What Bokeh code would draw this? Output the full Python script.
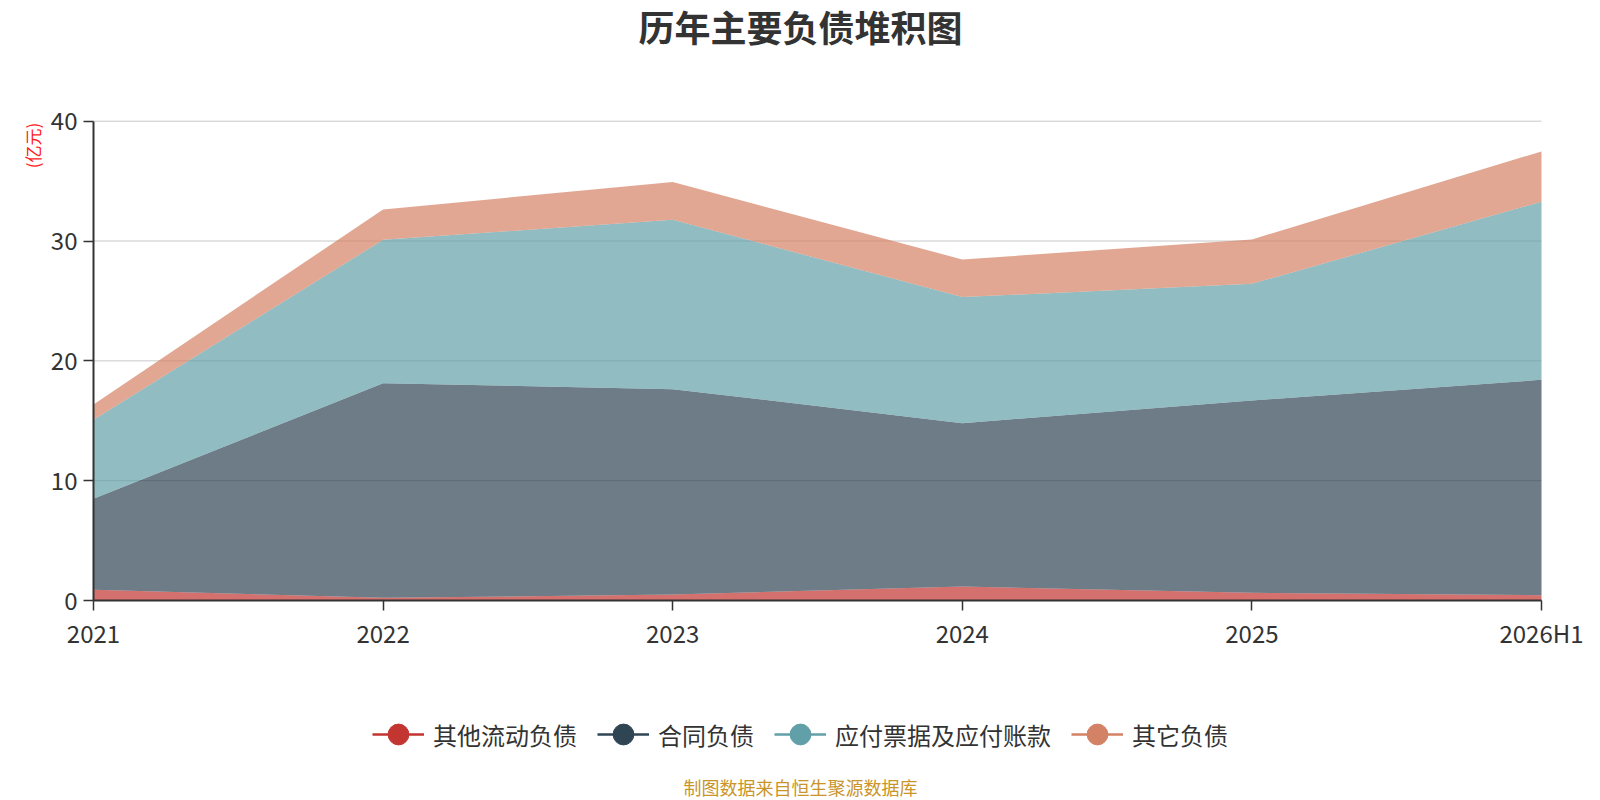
import math
from bokeh.plotting import figure
from bokeh.models import (ColumnDataSource, Legend, LegendItem, FixedTicker, Range1d, Label)
from bokeh.embed import file_html
from bokeh.resources import INLINE

# ---- data (亿元) ----
years = ["2021", "2022", "2023", "2024", "2025", "2026H1"]
other_current = [0.89, 0.22, 0.50, 1.17, 0.64, 0.44]      # 其他流动负债
contract = [7.60, 17.92, 17.14, 13.63, 16.05, 17.98]      # 合同负债
payables = [6.59, 11.96, 14.14, 10.52, 9.74, 14.86]       # 应付票据及应付账款
other = [1.28, 2.54, 3.14, 3.14, 3.70, 4.20]              # 其它负债
series_names = ["其他流动负债", "合同负债", "应付票据及应付账款", "其它负债"]
y_ticks = [0, 10, 20, 30, 40]
title_text = "历年主要负债堆积图"
unit_text = "(亿元)"
source_text = "制图数据来自恒生聚源数据库"

colors = ["#c23531", "#2f4554", "#61a0a8", "#d48265"]
FONT = "Noto Sans CJK SC"

# ---- layout (pixels on the 1600x800 canvas) ----
W, H = 1600, 800
PLOT_L, PLOT_R, PLOT_T, PLOT_B = 93, 1541, 120.7, 600
n = len(years)
y_max = y_ticks[-1]
px_x = (PLOT_R - PLOT_L) / (n - 1)
px_y = (PLOT_B - PLOT_T) / y_max
x_range = Range1d(-PLOT_L / px_x, (n - 1) + (W - PLOT_R) / px_x)
y_range = Range1d(-(H - PLOT_B) / px_y, y_max + PLOT_T / px_y)

p = figure(width=W, height=H, output_backend="svg", toolbar_location=None,
           x_range=x_range, y_range=y_range)
p.min_border = 0
p.min_border_left = p.min_border_right = p.min_border_top = p.min_border_bottom = 0
p.outline_line_color = None
p.background_fill_color = "white"
p.border_fill_color = "white"
p.xgrid.grid_line_color = None
p.ygrid.grid_line_color = None

xs = list(range(n))
source = ColumnDataSource(dict(x=xs, s0=other_current, s1=contract, s2=payables, s3=other))

# horizontal grid lines (under the areas)
p.segment(x0=[0] * len(y_ticks), x1=[n - 1] * len(y_ticks), y0=y_ticks, y1=y_ticks,
          line_color="#c8c8c8", line_width=1)

p.varea_stack(stackers=["s0", "s1", "s2", "s3"], x="x", color=colors,
              fill_alpha=0.7, source=source)

# axes pinned to the data origin
p.xaxis.fixed_location = 0
p.yaxis.fixed_location = 0
p.xaxis.bounds = (0, n - 1)
p.yaxis.bounds = (0, y_max)
p.xaxis.ticker = FixedTicker(ticks=xs)
p.xaxis.major_label_overrides = {i: y for i, y in enumerate(years)}
p.yaxis.ticker = FixedTicker(ticks=y_ticks)
for ax in (p.xaxis, p.yaxis):
    ax.axis_line_color = "#333333"
    ax.axis_line_width = 2
    ax.major_tick_line_color = "#333333"
    ax.major_tick_line_width = 1.5
    ax.major_tick_out = 10
    ax.major_tick_in = 0
    ax.minor_tick_line_color = None
    ax.major_label_text_font = FONT
    ax.major_label_text_font_size = "24px"
    ax.major_label_text_color = "#333333"
p.xaxis.major_label_standoff = 4
p.yaxis.major_label_standoff = 6

# title, unit, source note
p.add_layout(Label(x=W / 2, y=H - 25, x_units="screen", y_units="screen",
                   text=title_text, text_font=FONT, text_font_size="36px",
                   text_font_style="bold", text_color="#333333",
                   text_align="center", text_baseline="middle"))
p.add_layout(Label(x=32, y=H - 145, x_units="screen", y_units="screen",
                   text=unit_text, text_font=FONT, text_font_size="17px",
                   text_color="#ff1a1a", angle=math.pi / 2,
                   text_align="center", text_baseline="middle"))
p.add_layout(Label(x=W / 2, y=H - 786, x_units="screen", y_units="screen",
                   text=source_text, text_font=FONT, text_font_size="18px",
                   text_color="#c9952b", text_align="center", text_baseline="middle"))

# legend (line + circle icons)
items = []
for name, c in zip(series_names, colors):
    ln = p.line(x=[float("nan")], y=[float("nan")], line_color=c, line_width=2.5)
    sc = p.scatter(x=[float("nan")], y=[float("nan")], marker="circle",
                   fill_color=c, line_color=c)
    items.append(LegendItem(label=name, renderers=[ln, sc]))

legend = Legend(items=items, orientation="horizontal", location=(372, H - 761))
legend.glyph_width = 52
legend.glyph_height = 54
legend.label_standoff = 9
legend.spacing = 20
legend.padding = 0
legend.margin = 0
legend.border_line_color = None
legend.background_fill_alpha = 0
legend.label_text_font = FONT
legend.label_text_font_size = "24px"
legend.label_text_color = "#333333"
p.add_layout(legend)

open("out.html", "w").write(file_html(p, INLINE))
